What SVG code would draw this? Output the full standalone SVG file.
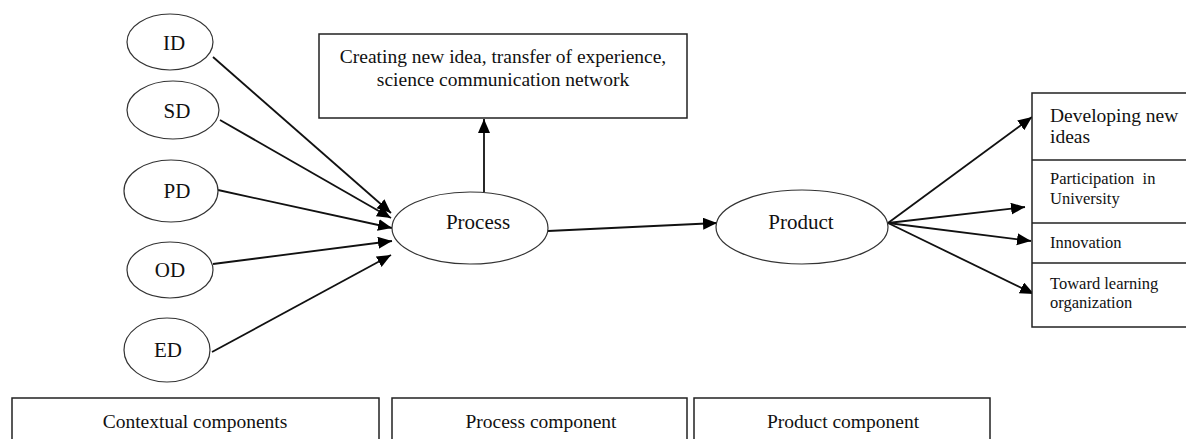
<svg xmlns="http://www.w3.org/2000/svg" width="1186" height="439" viewBox="0 0 1186 439">
<style>
.ell{fill:#fff;stroke:#333;stroke-width:1.2}
.box{fill:#fff;stroke:#222;stroke-width:1.5}
.lbl{font-family:"Liberation Serif","Times New Roman",serif;font-size:21px;fill:#111;text-anchor:middle}
.txt{font-family:"Liberation Serif","Times New Roman",serif;font-size:19.5px;fill:#111}
.sm{font-family:"Liberation Serif","Times New Roman",serif;font-size:16.5px;fill:#111}
.cap{font-family:"Liberation Serif","Times New Roman",serif;font-size:19.5px;fill:#111;text-anchor:middle}
.con{stroke:#111;stroke-width:1.8;fill:none;marker-end:url(#ah)}
</style>
<defs>
<marker id="ah" markerUnits="userSpaceOnUse" markerWidth="16" markerHeight="14" refX="14" refY="6" orient="auto">
<path d="M0,0 L14,6 L0,12 Z" fill="#000"/>
</marker>
</defs>
<rect width="1186" height="439" fill="#fff"/>
<g id="connectors">
<line class="con" x1="213" y1="57" x2="391" y2="213"/>
<line class="con" x1="220" y1="120" x2="391" y2="218"/>
<line class="con" x1="218" y1="190" x2="392" y2="228"/>
<line class="con" x1="213" y1="264" x2="392" y2="241"/>
<line class="con" x1="212" y1="352" x2="391" y2="255"/>
<line class="con" x1="484" y1="192" x2="484" y2="119"/>
<line class="con" x1="548" y1="231" x2="717" y2="223"/>
<line class="con" x1="888" y1="223" x2="1032" y2="117"/>
<line class="con" x1="888" y1="223" x2="1025" y2="207"/>
<line class="con" x1="888" y1="223" x2="1031" y2="241"/>
<line class="con" x1="888" y1="223" x2="1034" y2="294"/>
</g>
<g id="node-ID"><ellipse class="ell" cx="170" cy="42" rx="43" ry="28"/><text class="lbl" x="174" y="50">ID</text></g>
<g id="node-SD"><ellipse class="ell" cx="173" cy="110" rx="46" ry="29"/><text class="lbl" x="177" y="118">SD</text></g>
<g id="node-PD"><ellipse class="ell" cx="171" cy="191" rx="47" ry="31"/><text class="lbl" x="177" y="198">PD</text></g>
<g id="node-OD"><ellipse class="ell" cx="170" cy="270" rx="43" ry="28"/><text class="lbl" x="170" y="277">OD</text></g>
<g id="node-ED"><ellipse class="ell" cx="167" cy="350" rx="43" ry="32"/><text class="lbl" x="168" y="357">ED</text></g>
<g id="node-Process"><ellipse class="ell" cx="470" cy="228" rx="78" ry="36"/><text class="lbl" x="478" y="229">Process</text></g>
<g id="node-Product"><ellipse class="ell" cx="802" cy="227" rx="86" ry="37"/><text class="lbl" x="801" y="229">Product</text></g>
<g id="node-creating">
<rect class="box" x="319" y="34" width="368" height="84"/>
<text class="cap" x="503" y="63">Creating new idea, transfer of experience,</text>
<text class="cap" x="503" y="86">science communication network</text>
</g>
<g id="node-outcomes">
<rect class="box" x="1032" y="93" width="160" height="234"/>
<line x1="1032" y1="160" x2="1192" y2="160" stroke="#222" stroke-width="1.5"/>
<line x1="1032" y1="223" x2="1192" y2="223" stroke="#222" stroke-width="1.5"/>
<line x1="1032" y1="263" x2="1192" y2="263" stroke="#222" stroke-width="1.5"/>
<text class="txt" x="1050" y="122">Developing new</text>
<text class="txt" x="1050" y="143">ideas</text>
<text class="sm" x="1050" y="184" xml:space="preserve">Participation  in</text>
<text class="sm" x="1050" y="204">University</text>
<text class="sm" x="1050" y="248">Innovation</text>
<text class="sm" x="1050" y="289">Toward learning</text>
<text class="sm" x="1050" y="308">organization</text>
</g>
<g id="node-contextual"><rect class="box" x="12" y="398" width="367" height="60"/><text class="cap" x="195" y="428">Contextual components</text></g>
<g id="node-processcomp"><rect class="box" x="392" y="398" width="295" height="60"/><text class="cap" x="541" y="428">Process component</text></g>
<g id="node-productcomp"><rect class="box" x="694" y="398" width="296" height="60"/><text class="cap" x="843" y="428">Product component</text></g>
</svg>
